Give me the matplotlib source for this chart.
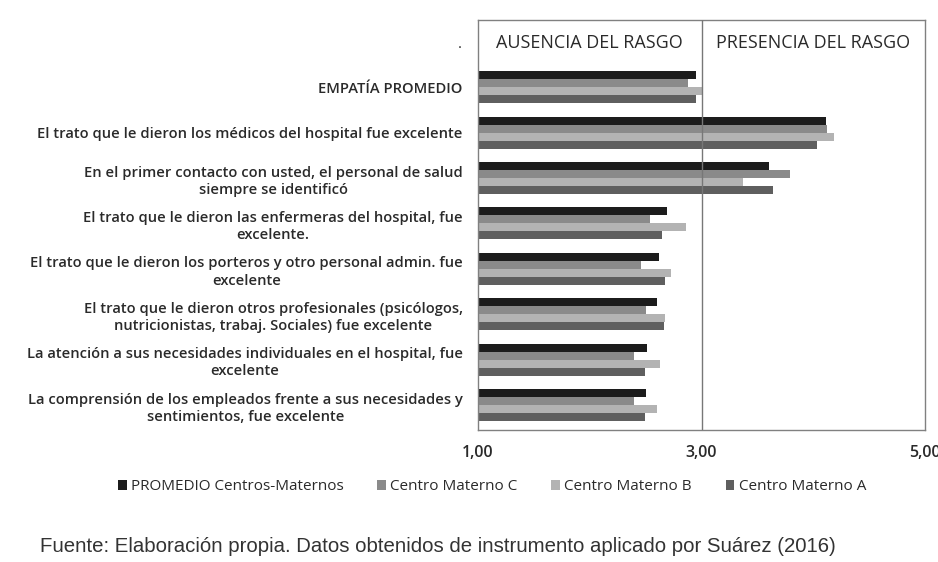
import matplotlib
matplotlib.use("Agg")
import matplotlib.pyplot as plt
import numpy as np

# Data
categories = [
    "EMPATÍA PROMEDIO",
    "El trato que le dieron los médicos del hospital fue excelente",
    "En el primer contacto con usted, el personal de salud\nsiempre se identificó",
    "El trato que le dieron las enfermeras del hospital, fue\nexcelente.",
    "El trato que le dieron los porteros y otro personal admin. fue\nexcelente",
    "El trato que le dieron otros profesionales (psicólogos,\nnutricionistas, trabaj. Sociales) fue excelente",
    "La atención a sus necesidades individuales en el hospital, fue\nexcelente",
    "La comprensión de los empleados frente a sus necesidades y\nsentimientos, fue excelente",
]
promedio = [2.95, 4.11, 3.60, 2.69, 2.62, 2.60, 2.51, 2.50]
centro_c = [2.88, 4.12, 3.79, 2.54, 2.46, 2.50, 2.40, 2.40]
centro_b = [3.00, 4.19, 3.37, 2.86, 2.73, 2.67, 2.63, 2.60]
centro_a = [2.95, 4.03, 3.64, 2.65, 2.67, 2.66, 2.49, 2.49]

series_names = ["PROMEDIO Centros-Maternos", "Centro Materno C",
                "Centro Materno B", "Centro Materno A"]
series_colors = ["#1c1c1c", "#8a8a8a", "#b3b3b3", "#5f5f5f"]
x_ticks = [1, 3, 5]
x_ticklabels = ["1,00", "3,00", "5,00"]

FONT = "Open Sans"
TXT = "#2a2a2a"

fig = plt.figure(figsize=(9.38, 5.62), dpi=100)
ax = fig.add_axes([478 / 938, 1 - 430 / 562, (925 - 478) / 938, (430 - 20) / 562])

y = np.arange(len(categories))
h = 0.176
all_series = [promedio, centro_c, centro_b, centro_a]
for k, (vals, name, col) in enumerate(zip(all_series, series_names, series_colors)):
    offs = (k - 1.5) * h
    ax.barh(y + offs, np.array(vals) - 1, left=1, height=h, color=col,
            label=name, zorder=2)

ax.axvline(3, color="#777777", linewidth=1.0, zorder=3)
ax.set_xlim(1, 5)
ax.set_ylim(7.55, -1.48)

ax.set_xticks(x_ticks)
ax.set_xticklabels(x_ticklabels, fontsize=11.5, family=FONT, color=TXT,
                   fontweight="semibold")
ax.set_yticks(y)
ax.set_yticklabels(categories, fontsize=10.6, family=FONT, color=TXT,
                   fontweight="semibold", linespacing=1.3)
for t in ax.get_yticklabels():
    t.set_multialignment("center")
ax.tick_params(axis="x", length=0, pad=11)
ax.tick_params(axis="y", length=0, pad=11)
for s in ax.spines.values():
    s.set_color("#808080")
    s.set_linewidth(1.0)

ax.text(2, -0.97, "AUSENCIA DEL RASGO", ha="center", va="center",
        fontsize=13, family=FONT, color=TXT, fontweight="medium")
ax.text(4, -0.97, "PRESENCIA DEL RASGO", ha="center", va="center",
        fontsize=13, family=FONT, color=TXT, fontweight="medium")
fig.text(460 / 938, 1 - 45 / 562, ".", ha="center", va="center",
         fontsize=11, family=FONT, color=TXT)

fig.legend(loc="center", bbox_to_anchor=(492 / 938, 1 - 487 / 562), ncol=4,
           frameon=False, prop={"family": FONT, "size": 11},
           handlelength=0.55, handleheight=0.55, handletextpad=0.3,
           columnspacing=2.2, labelcolor=TXT)

fig.text(40 / 938, 1 - 546 / 562,
         "Fuente: Elaboración propia. Datos obtenidos de instrumento aplicado por Suárez (2016)",
         ha="left", va="center", fontsize=14.7, family="Liberation Sans",
         color="#333333")

fig.savefig("out.png", dpi=100)
